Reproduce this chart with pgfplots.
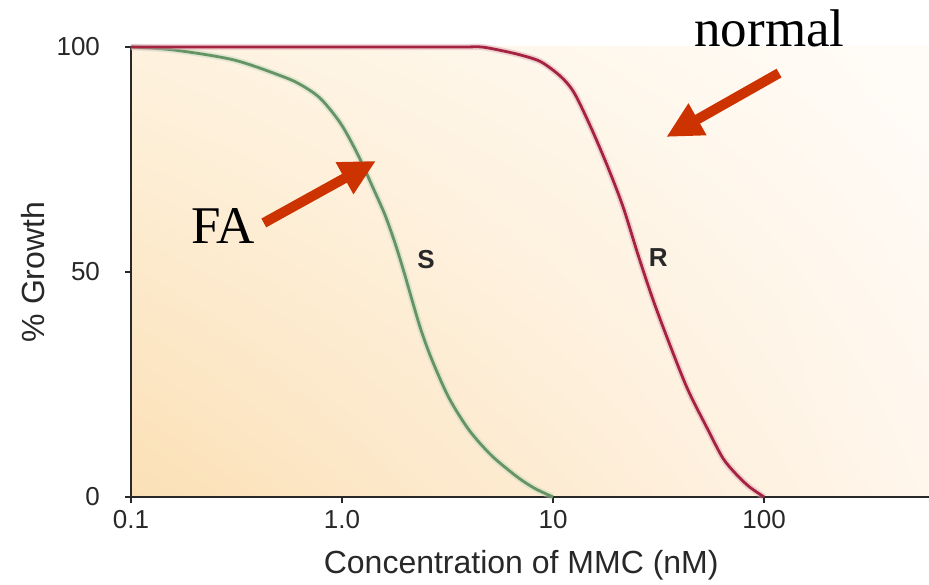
\documentclass[border=0pt]{standalone}
\usepackage{fontspec}
\setmainfont{Liberation Sans}
\newfontfamily\timesfont{Liberation Serif}
\usepackage{pgfplots}
\usepackage{pgfplotstable}
\pgfplotsset{compat=1.18}
\usetikzlibrary{arrows.meta,shadings}

\definecolor{bgLL}{RGB}{251,224,182}
\definecolor{bgUL}{RGB}{254,242,222}
\definecolor{bgLR}{RGB}{255,246,236}
\definecolor{bgUR}{RGB}{255,252,248}
\definecolor{curveR}{RGB}{165,35,65}
\definecolor{curveS}{RGB}{100,148,100}
\definecolor{arrowred}{RGB}{204,51,0}
\definecolor{axisgray}{RGB}{40,40,40}

% sensitive (FA) cells
\pgfplotstableread{
conc growth
0.100 100
0.160 99.33
0.308 97.11
0.531 93.33
0.653 91.33
0.795 88.44
0.989 82.89
1.191 76.00
1.418 68.22
1.599 62.67
1.783 56.44
1.967 50.00
2.147 43.78
2.368 37.11
2.670 30.44
3.215 22.00
3.999 14.89
5.084 9.33
6.677 4.67
8.128 2.00
10.00 0
}\sensitive

% resistant (normal) cells
\pgfplotstableread{
conc growth
0.10 100
1.0 100
2.5 100
3.8 100
4.6 100
5.7 99.2
7.05 98.2
8.77 96.7
10.9 93.4
12.6 89.8
15.1 82.2
18.2 73.3
21.5 64.4
25.3 53.8
29.8 43.8
35.8 33.8
43.6 23.8
54.3 14.9
63.9 8.6
74.0 5.0
85.0 2.3
100 0
}\resistant

\begin{document}
\begin{tikzpicture}
\begin{axis}[
  name=ax,
  scale only axis,
  width=399pt, height=225pt,
  xmode=log,
  xmin=0.1, xmax=605,
  ymin=0, ymax=100,
  axis lines*=left,
  axis line style={axisgray, line width=1pt},
  xtick={0.1,1,10,100},
  xticklabels={0.1,1.0,10,100},
  ytick={0,50,100},
  xminorticks=false,
  tick align=outside,
  major tick length=3pt,
  tick style={axisgray, line width=0.9pt},
  ytick style={shorten >=-5.5pt},
  ticklabel style={font=\fontsize{13}{15}\selectfont, text=axisgray},
  yticklabel style={xshift=-9pt},
  /pgf/number format/assume math mode=true,
  xlabel={Concentration of MMC (nM)},
  ylabel={\% Growth},
  label style={font=\fontsize{16}{19}\selectfont, text=axisgray},
  xlabel style={at={(axis description cs:0.489,0)}, anchor=north, yshift=-23pt},
  ylabel style={at={(axis description cs:-0.1228,0.5)}, anchor=center},
  axis background/.style={shade, lower left=bgLL, upper left=bgUL,
    lower right=bgLR, upper right=bgUR},
  clip=false,
]
\addplot[no marks, smooth, tension=0.5, line width=3.2pt, curveS!40, opacity=0.45] table {\sensitive};
\addplot[no marks, smooth, tension=0.5, line width=1.4pt, curveS] table {\sensitive};
\addplot[no marks, smooth, tension=0.5, line width=3.2pt, curveR!40, opacity=0.45] table {\resistant};
\addplot[no marks, smooth, tension=0.5, line width=1.4pt, curveR] table {\resistant};

\node[font=\bfseries\fontsize{13}{15}\selectfont, text=axisgray] at (axis cs:2.5,52.7) {S};
\node[font=\bfseries\fontsize{13}{15}\selectfont, text=axisgray] at (axis cs:31.5,53.1) {R};

\draw[arrowred, line width=5pt, -{Triangle[length=18pt,width=17pt]}]
  (axis cs:0.426,60.9) -- (axis cs:1.449,74.7);
\draw[arrowred, line width=5pt, -{Triangle[length=18pt,width=17pt]}]
  (axis cs:117.8,94.2) -- (axis cs:34.4,80);

\node[anchor=base west, inner sep=0pt, font=\timesfont\fontsize{26.5}{30}\selectfont]
  at (axis cs:0.192,56.4) {FA};
\node[anchor=base west, inner sep=0pt, font=\timesfont\fontsize{26.5}{30}\selectfont]
  at (axis cs:46.6,100) {normal};
\end{axis}
\pgfresetboundingbox
\path[use as bounding box] ([xshift=-65.5pt,yshift=-43.5pt]ax.south west)
  rectangle ([yshift=23.5pt]ax.north east);
\end{tikzpicture}
\end{document}
